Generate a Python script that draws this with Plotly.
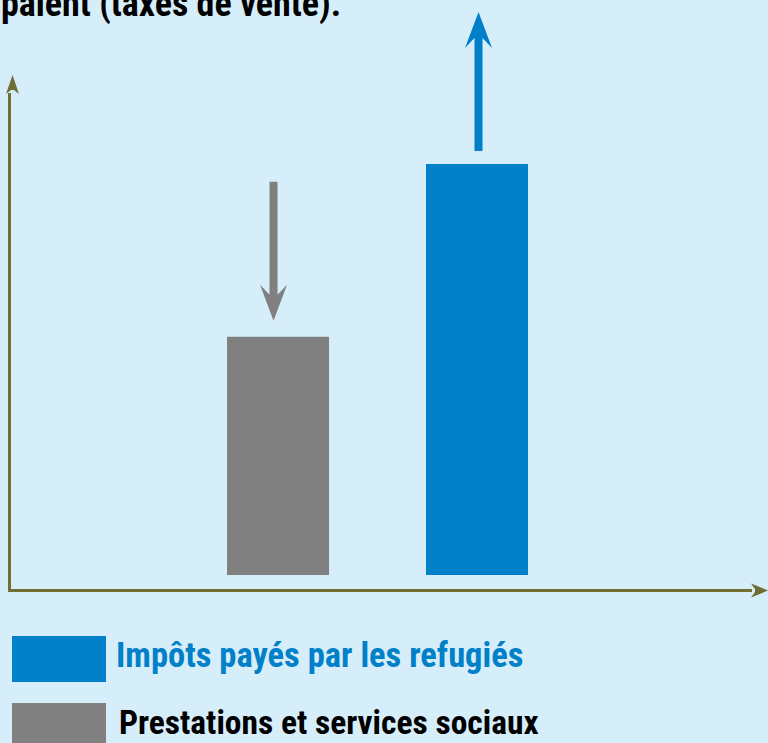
import plotly.graph_objects as go

# ---- data ----
categories = ["Prestations et services sociaux", "Impôts payés par les refugiés"]
values = [58, 100]
bar_colors = ["#808080", "#0080c8"]
arrow_dirs = ["down", "up"]
legend_order = [1, 0]
legend_text_colors = ["#000000", "#0080c8"]
title_text = "paient (taxes de vente)."

# ---- layout constants ----
W, H = 768, 743
ML, MR, MT, MB = 11, 16, 93, 154
PW, PH = W - ML - MR, H - MT - MB
BG = "#d6eefa"
AXIS = "#6f6f33"
FONT = "Roboto Condensed, Open Sans Condensed, sans-serif"
Y_RANGE = [-3.41, 117.3]
X_RANGE = [-1.342, 2.382]


def py2paper(py):
    return (H - MB - py) / PH


def yval2paper(v):
    return (v - Y_RANGE[0]) / (Y_RANGE[1] - Y_RANGE[0])


fig = go.Figure()
fig.add_trace(go.Bar(
    x=list(range(len(categories))), y=values, width=0.5126,
    marker=dict(color=bar_colors, line=dict(width=0)),
    hoverinfo="skip", showlegend=False,
))


def poly(pts):
    return "M " + " L ".join(f"{x},{y}" for x, y in pts) + " Z"


def arrow_path(direction, cx, near, far, head_len=36, head_half=13.5, notch=10, shaft_half=4):
    if direction == "up":
        tip, tail, s = far, near, -1
    else:
        tip, tail, s = near, far, 1
    base = tip + s * head_len
    join = tip + s * (head_len - notch)
    pts = [(cx, tip), (cx + head_half, base), (cx + shaft_half, join), (cx + shaft_half, tail),
           (cx - shaft_half, tail), (cx - shaft_half, join), (cx - head_half, base)]
    return poly(pts)


arrow_specs = {"down": (-4.5, 16, 155), "up": (1.5, 13, 152)}
for i, d in enumerate(arrow_dirs):
    cx, near, far = arrow_specs[d]
    fig.add_shape(type="path", xref="x", yref="paper", xsizemode="pixel", ysizemode="pixel",
                  xanchor=i, yanchor=yval2paper(values[i]), path=arrow_path(d, cx, near, far),
                  fillcolor=bar_colors[i], line=dict(width=0))

# axis arrowheads
fig.add_shape(type="path", xref="paper", yref="paper", xsizemode="pixel", ysizemode="pixel",
              xanchor=0, yanchor=1,
              path=poly([(1.5, 18), (8, -1), (3, 3), (0, 3), (-5, -1)]),
              fillcolor=AXIS, line=dict(width=0))
fig.add_shape(type="path", xref="paper", yref="paper", xsizemode="pixel", ysizemode="pixel",
              xanchor=1, yanchor=0,
              path=poly([(16, -1.5), (-1, 5.5), (3, 0), (3, -3), (-1, -8.5)]),
              fillcolor=AXIS, line=dict(width=0))

# legend
legend_rows = [(636, 682, 655, 34.5, 103), (703, 750, 722, 33.5, 106)]
for row, idx in enumerate(legend_order):
    top, bot, mid, fsize, xs = legend_rows[row]
    fig.add_shape(type="rect", xref="paper", yref="paper", xsizemode="pixel", ysizemode="pixel",
                  xanchor=0, yanchor=0, x0=1, x1=95, y0=-(top - (H - MB)), y1=-(bot - (H - MB)),
                  fillcolor=bar_colors[idx], line=dict(width=0))
    fig.add_annotation(xref="paper", yref="paper", x=0, y=py2paper(mid), xshift=xs,
                       xanchor="left", yanchor="middle", showarrow=False, text=categories[idx],
                       font=dict(family=FONT, size=fsize, color=legend_text_colors[idx], weight="bold"))

# title (partially cut off at top)
fig.add_annotation(xref="paper", yref="paper", x=0, y=py2paper(3.5), xshift=-ML - 1,
                   xanchor="left", yanchor="middle", showarrow=False, text=title_text,
                   font=dict(family=FONT, size=36, color="#000000", weight="bold"))

fig.update_layout(
    width=W, height=H, margin=dict(l=ML, r=MR, t=MT, b=MB),
    paper_bgcolor=BG, plot_bgcolor=BG, showlegend=False,
    xaxis=dict(range=X_RANGE, showline=True, linecolor=AXIS, linewidth=3,
               showgrid=False, zeroline=False, showticklabels=False, ticks="", fixedrange=True),
    yaxis=dict(range=Y_RANGE, showline=True, linecolor=AXIS, linewidth=3,
               showgrid=False, zeroline=False, showticklabels=False, ticks="", fixedrange=True),
)

fig.write_html("out.html", config={"displayModeBar": False},
               post_script="document.body.style.margin='0';")
